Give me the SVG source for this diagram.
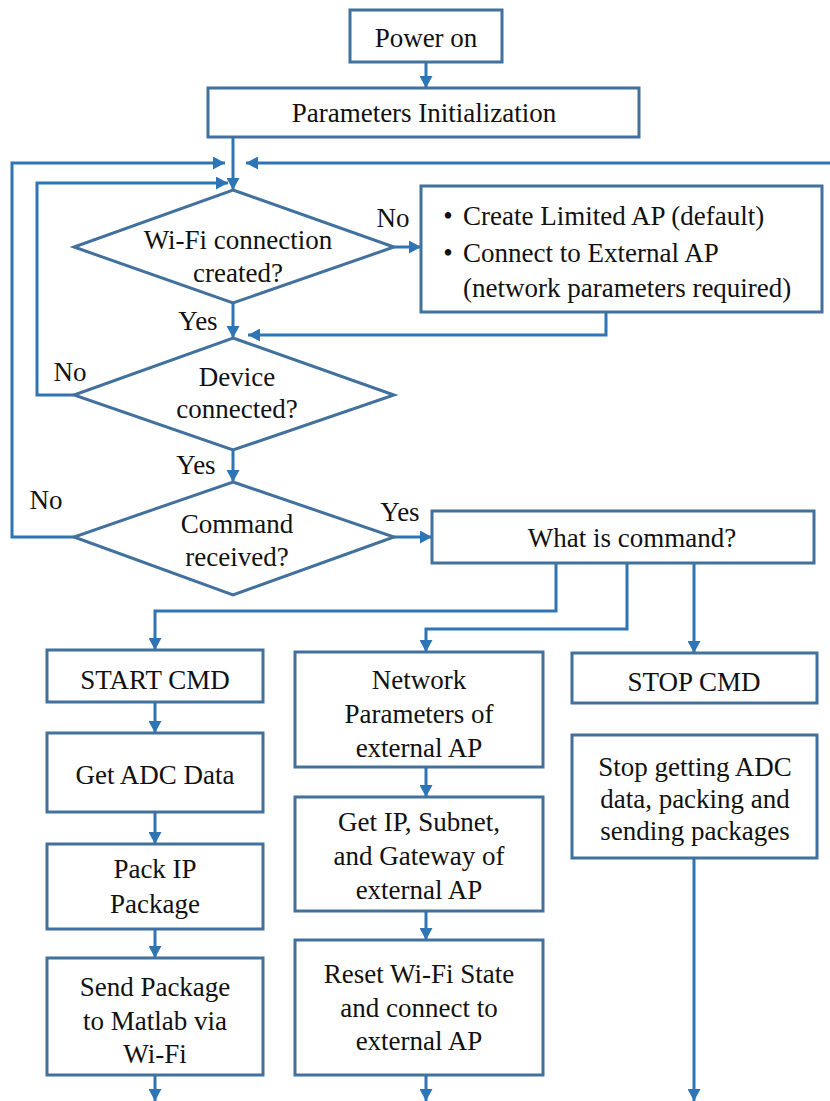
<svg xmlns="http://www.w3.org/2000/svg" width="830" height="1101" viewBox="0 0 830 1101">
<style>
.box{fill:#fff;stroke:#41719C;stroke-width:3}
.c{fill:none;stroke:#2E75B6;stroke-width:3}
text{font-size:27px;fill:#111;text-anchor:middle}
text.l{text-anchor:start}
</style>
<defs>
<marker id="a" markerUnits="userSpaceOnUse" markerWidth="13" markerHeight="13" refX="12" refY="6.5" orient="auto">
<path d="M0,0 L12,6.5 L0,13 z" fill="#2E75B6"/>
</marker>
</defs>
<rect width="830" height="1101" fill="#fff"/>
<g font-family="Liberation Serif, Tinos, Times New Roman, Times, Noto Serif, DejaVu Serif, FreeSerif, serif">
<g id="connectors">
<path class="c" d="M426,62 V88" marker-end="url(#a)"/>
<path class="c" d="M233,137 V190" marker-end="url(#a)"/>
<path class="c" d="M74,537 H12 V163 H225" marker-end="url(#a)"/>
<path class="c" d="M74,395 H37 V183 H228" marker-end="url(#a)"/>
<path class="c" d="M830,163 H246" marker-end="url(#a)"/>
<path class="c" d="M394,247 H421" marker-end="url(#a)"/>
<path class="c" d="M606,312 V335 H248" marker-end="url(#a)"/>
<path class="c" d="M233,303 V338" marker-end="url(#a)"/>
<path class="c" d="M233,450 V482" marker-end="url(#a)"/>
<path class="c" d="M394,537 H432" marker-end="url(#a)"/>
<path class="c" d="M556,563 V611 H155 V650" marker-end="url(#a)"/>
<path class="c" d="M627,563 V629 H426 V652" marker-end="url(#a)"/>
<path class="c" d="M694,563 V653" marker-end="url(#a)"/>
<path class="c" d="M155,702 V733" marker-end="url(#a)"/>
<path class="c" d="M155,812 V844" marker-end="url(#a)"/>
<path class="c" d="M155,929 V958" marker-end="url(#a)"/>
<path class="c" d="M155,1075 V1101" marker-end="url(#a)"/>
<path class="c" d="M426,767 V797" marker-end="url(#a)"/>
<path class="c" d="M426,911 V940" marker-end="url(#a)"/>
<path class="c" d="M426,1075 V1101" marker-end="url(#a)"/>
<path class="c" d="M694,858 V1101" marker-end="url(#a)"/>
<text x="393" y="227">No</text>
<text x="198" y="330">Yes</text>
<text x="70" y="381">No</text>
<text x="196" y="474">Yes</text>
<text x="46" y="509">No</text>
<text x="400" y="521">Yes</text>
</g>
<g id="power-on">
<rect class="box" x="350" y="10" width="152" height="52"/>
<text x="426" y="47">Power on</text>
</g>
<g id="params-init">
<rect class="box" x="208" y="88" width="431" height="49"/>
<text x="424" y="122">Parameters Initialization</text>
</g>
<g id="wifi-decision">
<polygon class="box" points="233,190 394,247 233,303 74,247"/>
<text x="238" y="249">Wi-Fi connection</text>
<text x="238" y="282">created?</text>
</g>
<g id="create-ap">
<rect class="box" x="421" y="186" width="401" height="126"/>
<text x="448" y="225">•</text>
<text class="l" x="463" y="225">Create Limited AP (default)</text>
<text x="448" y="262">•</text>
<text class="l" x="463" y="262">Connect to External AP</text>
<text class="l" x="463" y="297">(network parameters required)</text>
</g>
<g id="device-decision">
<polygon class="box" points="233,338 394,395 233,450 74,395"/>
<text x="237" y="386">Device</text>
<text x="237" y="418">connected?</text>
</g>
<g id="command-decision">
<polygon class="box" points="233,482 394,537 233,595 74,537"/>
<text x="237" y="533">Command</text>
<text x="237" y="566">received?</text>
</g>
<g id="what-command">
<rect class="box" x="432" y="511" width="382" height="52"/>
<text x="632" y="547">What is command?</text>
</g>
<g id="start-cmd">
<rect class="box" x="47" y="650" width="216" height="52"/>
<text x="155" y="689">START CMD</text>
</g>
<g id="network-params">
<rect class="box" x="295" y="652" width="248" height="115"/>
<text x="419" y="689">Network</text>
<text x="419" y="723">Parameters of</text>
<text x="419" y="757">external AP</text>
</g>
<g id="stop-cmd">
<rect class="box" x="572" y="653" width="245" height="50"/>
<text x="694" y="691">STOP CMD</text>
</g>
<g id="get-adc">
<rect class="box" x="47" y="733" width="216" height="79"/>
<text x="155" y="784">Get ADC Data</text>
</g>
<g id="stop-getting">
<rect class="box" x="572" y="735" width="245" height="123"/>
<text x="695" y="776">Stop getting ADC</text>
<text x="695" y="808">data, packing and</text>
<text x="695" y="840">sending packages</text>
</g>
<g id="get-ip">
<rect class="box" x="295" y="797" width="248" height="114"/>
<text x="419" y="831">Get IP, Subnet,</text>
<text x="419" y="865">and Gateway of</text>
<text x="419" y="899">external AP</text>
</g>
<g id="pack-ip">
<rect class="box" x="47" y="844" width="216" height="85"/>
<text x="155" y="878">Pack IP</text>
<text x="155" y="913">Package</text>
</g>
<g id="send-package">
<rect class="box" x="47" y="958" width="216" height="117"/>
<text x="155" y="996">Send Package</text>
<text x="155" y="1030">to Matlab via</text>
<text x="155" y="1063">Wi-Fi</text>
</g>
<g id="reset-wifi">
<rect class="box" x="295" y="940" width="248" height="135"/>
<text x="419" y="983">Reset Wi-Fi State</text>
<text x="419" y="1017">and connect to</text>
<text x="419" y="1050">external AP</text>
</g>
</g>
</svg>
